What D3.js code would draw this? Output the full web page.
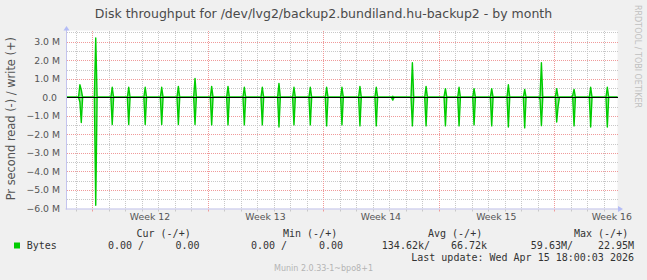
<!DOCTYPE html>
<html>
<head>
<meta charset="utf-8">
<script src="https://cdn.jsdelivr.net/npm/d3@7"></script>
<style>
  body { margin: 0; background: #f0f0f0; }
  svg { display: block; }
  text { font-family: "DejaVu Sans", sans-serif; }
  .mono { font-family: "DejaVu Sans Mono", monospace; white-space: pre; }
</style>
</head>
<body>
<div id="container"></div>
<script>
const w = 647;
const h = 280;

// days after Mon 16 Mar 2026 00:00 where the nightly backup spike starts
const spikeDays = [-0.75, 0.21, 1.21, 2.21, 3.21, 4.21, 5.22, 6.23, 7.24, 8.23, 9.22,
  10.31, 11.32, 12.23, 13.22, 14.21, 15.14, 16.23, 17.22, 18.22, 19.41, 20.24,
  21.33, 22.24, 23.15, 24.22, 25.23, 26.22, 27.15, 28.16, 29.13, 30.22, 31.23];
// bytes/s in millions, successive 2-hour samples of each spike
const writeSamples = [[0.68, 0.40], [3.21], [0.54], [0.54], [0.54], [0.54], [0.59], [1.02],
  [0.59], [0.59], [0.54], [0.54], [0.75], [0.54], [0.54], [0.54], [0.54], [0.59], [0.54],
  [0.06], [1.87], [0.59], [0.04, 0.47], [0.54], [0.47], [0.47], [0.68], [0.43], [0, 1.87],
  [0.47], [0.10, 0.43], [0.54], [0.54]];
const readSamples = [[0.25, 1.36], [5.83], [1.47], [1.47], [1.47], [1.47], [1.47], [1.47],
  [1.49], [1.49], [1.49], [1.49], [1.60], [1.49], [1.49], [1.54], [1.49], [1.54], [1.54],
  [0.15], [1.54], [1.54], [0, 1.54], [1.54], [1.49], [1.54], [1.60], [1.65], [0.10, 1.53],
  [1.33, 0.50], [0, 1.54], [1.60], [1.60]];

const yTicks = [-6, -5, -4, -3, -2, -1, 0, 1, 2, 3];
const legendHeads = ['Cur (-/+)', 'Min (-/+)', 'Avg (-/+)', 'Max (-/+)'];
const legendRead = ['0.00 /', '0.00 /', '134.62k/', '59.63M/'];
const legendWrite = ['0.00', '0.00', '66.72k', '22.95M'];

const title = 'Disk throughput for /dev/lvg2/backup2.bundiland.hu-backup2 - by month';
const yTitle = 'Pr second read (-) / write (+)';
const lastUpdate = 'Last update: Wed Apr 15 18:00:03 2026';

const weekStart = Date.UTC(2026, 2, 16);
const dayMs = 864e5;
const stepMs = 2 * 3600e3;
const start = new Date(Date.UTC(2026, 2, 14, 10, 30));
const end = new Date(Date.UTC(2026, 3, 16, 20, 20));

const plot = {left: 66.5, right: 617.5, top: 30.6, bottom: 208.5};

const x = d3.scaleUtc().domain([start, end]).range([plot.left, plot.right]);
const y = d3.scaleLinear().domain([-6.0e6, 3.6e6]).range([plot.bottom, plot.top]);

const svg = d3.select('#container')
  .append('svg')
  .attr('width', w)
  .attr('height', h)
  .attr('viewBox', [0, 0, w, h]);

svg.append('rect')
  .attr('width', w).attr('height', h)
  .attr('fill', '#f0f0f0');

svg.append('rect')
  .attr('x', plot.left).attr('y', plot.top)
  .attr('width', plot.right - plot.left).attr('height', plot.bottom - plot.top)
  .attr('fill', '#ffffff');

// grid
const grid = svg.append('g')
  .attr('stroke-dasharray', '1,1')
  .attr('shape-rendering', 'crispEdges');

const halfTicks = d3.range(-11, 8).map(d => d * 0.5e6).filter(v => v % 1e6 !== 0);
grid.selectAll('.hmin')
  .data(halfTicks)
  .join('line')
    .attr('x1', plot.left).attr('x2', plot.right)
    .attr('y1', d => Math.round(y(d)) + 0.5).attr('y2', d => Math.round(y(d)) + 0.5)
    .attr('stroke', '#c8c8c8');

const days = d3.utcDay.range(start, end).filter(d => d.getUTCDay() !== 1);
grid.selectAll('.vmin')
  .data(days)
  .join('line')
    .attr('x1', d => Math.round(x(d)) + 0.5).attr('x2', d => Math.round(x(d)) + 0.5)
    .attr('y1', plot.top).attr('y2', plot.bottom)
    .attr('stroke', '#c8c8c8');

grid.selectAll('.hmaj')
  .data(yTicks.filter(v => v > -6).map(v => v * 1e6))
  .join('line')
    .attr('x1', plot.left).attr('x2', plot.right)
    .attr('y1', d => Math.round(y(d)) + 0.5).attr('y2', d => Math.round(y(d)) + 0.5)
    .attr('stroke', '#f09a9a');

const mondays = d3.utcMonday.range(start, end);
grid.selectAll('.vmaj')
  .data(mondays)
  .join('line')
    .attr('x1', d => Math.round(x(d)) + 0.5).attr('x2', d => Math.round(x(d)) + 0.5)
    .attr('y1', plot.top).attr('y2', plot.bottom)
    .attr('stroke', '#f09a9a');

// series
function series(samples, sign) {
  const pts = [[start, 0]];
  spikeDays.forEach((d, i) => {
    const t0 = weekStart + d * dayMs;
    pts.push([new Date(t0 - stepMs), 0]);
    samples[i].forEach((v, j) => pts.push([new Date(t0 + j * stepMs), sign * v * 1e6]));
    pts.push([new Date(t0 + samples[i].length * stepMs), 0]);
  });
  pts.push([end, 0]);
  return pts;
}

const area = d3.area()
  .x(d => x(d[0]))
  .y0(y(0))
  .y1(d => y(d[1]));
const line = d3.line()
  .x(d => x(d[0]))
  .y(d => y(d[1]));

[series(writeSamples, 1), series(readSamples, -1)].forEach(pts => {
  svg.append('path')
    .datum(pts)
    .attr('fill', 'rgba(60, 214, 60, 0.6)')
    .attr('d', area);
  svg.append('path')
    .datum(pts)
    .attr('fill', 'none')
    .attr('stroke', '#00cc00')
    .attr('stroke-width', 1.4)
    .attr('stroke-linejoin', 'round')
    .attr('d', line);
});

// zero rule
svg.append('line')
  .attr('x1', plot.left).attr('x2', plot.right)
  .attr('y1', Math.round(y(0)) + 0.5).attr('y2', Math.round(y(0)) + 0.5)
  .attr('stroke', '#000')
  .attr('shape-rendering', 'crispEdges');

// axes
const axisColor = '#c4c4ee';
svg.append('line')
  .attr('x1', plot.left).attr('x2', plot.left)
  .attr('y1', plot.bottom + 1).attr('y2', 28)
  .attr('stroke', axisColor);
svg.append('line')
  .attr('x1', plot.left - 1).attr('x2', 620)
  .attr('y1', plot.bottom + 0.5).attr('y2', plot.bottom + 0.5)
  .attr('stroke', axisColor);
svg.append('path')
  .attr('d', `M${plot.left - 3},30.5L${plot.left + 3},30.5L${plot.left},26Z`)
  .attr('fill', '#b4bcf6');
svg.append('path')
  .attr('d', `M618,${plot.bottom - 2.5}L618,${plot.bottom + 3.5}L623,${plot.bottom + 0.5}Z`)
  .attr('fill', '#b4bcf6');

// small tick marks under the axis
svg.append('g')
  .selectAll('line')
  .data(days.concat(mondays))
  .join('line')
    .attr('x1', d => Math.round(x(d)) + 0.5).attr('x2', d => Math.round(x(d)) + 0.5)
    .attr('y1', plot.bottom + 1).attr('y2', plot.bottom + 3)
    .attr('stroke', d => d.getUTCDay() === 1 ? '#f09a9a' : '#c8c8c8');

// y labels
svg.append('g')
  .selectAll('text')
  .data(yTicks)
  .join('text')
    .attr('x', 60)
    .attr('y', d => y(d * 1e6) + 3.4)
    .attr('text-anchor', 'end')
    .attr('font-size', 9.3)
    .attr('fill', '#555')
    .attr('xml:space', 'preserve')
    .text(d => d === 0 ? '0.0 ' : d3.format('.1f')(d) + ' M');

// x labels
const weekFmt = d3.utcFormat('%V');
svg.append('g')
  .selectAll('text')
  .data(mondays)
  .join('text')
    .attr('x', d => x(new Date(+d + 3.5 * dayMs)))
    .attr('y', 220)
    .attr('text-anchor', 'middle')
    .attr('font-size', 9.3)
    .attr('fill', '#555')
    .text(d => 'Week ' + weekFmt(d));

// titles
svg.append('text')
  .attr('x', 323.5).attr('y', 18)
  .attr('text-anchor', 'middle')
  .attr('font-size', 12.5)
  .attr('fill', '#4a4a4a')
  .text(title);

svg.append('text')
  .attr('transform', 'translate(15,118.7) rotate(-90)')
  .attr('text-anchor', 'middle')
  .attr('font-size', 11.4)
  .attr('fill', '#555')
  .text(yTitle);

svg.append('text')
  .attr('transform', 'translate(635,5) rotate(90)')
  .attr('font-size', 8)
  .attr('fill', '#c0c0c0')
  .text('RRDTOOL / TOBI OETIKER');

// legend
const headX = [136.5, 283, 428, 574];
const readEndX = [144, 287, 430, 573];
const writeEndX = [199.5, 343, 487, 634];

const legend = svg.append('g')
  .attr('class', 'mono')
  .attr('font-size', 10)
  .attr('fill', '#333');

legend.selectAll('.head')
  .data(legendHeads)
  .join('text')
    .attr('class', 'mono')
    .attr('x', (d, i) => headX[i])
    .attr('y', 237)
    .text(d => d);

legend.append('rect')
  .attr('x', 14).attr('y', 242.5)
  .attr('width', 6).attr('height', 6)
  .attr('fill', '#00cc00');

legend.append('text')
  .attr('class', 'mono')
  .attr('x', 26.7).attr('y', 249)
  .text('Bytes');

legend.selectAll('.rd')
  .data(legendRead)
  .join('text')
    .attr('class', 'mono')
    .attr('x', (d, i) => readEndX[i])
    .attr('y', 249)
    .attr('text-anchor', 'end')
    .text(d => d);

legend.selectAll('.wr')
  .data(legendWrite)
  .join('text')
    .attr('class', 'mono')
    .attr('x', (d, i) => writeEndX[i])
    .attr('y', 249)
    .attr('text-anchor', 'end')
    .text(d => d);

legend.append('text')
  .attr('class', 'mono')
  .attr('x', 634).attr('y', 261)
  .attr('text-anchor', 'end')
  .text(lastUpdate);

svg.append('text')
  .attr('x', 323.5).attr('y', 271)
  .attr('text-anchor', 'middle')
  .attr('font-size', 8)
  .attr('fill', '#b4b4b4')
  .text('Munin 2.0.33-1~bpo8+1');
</script>
</body>
</html>
